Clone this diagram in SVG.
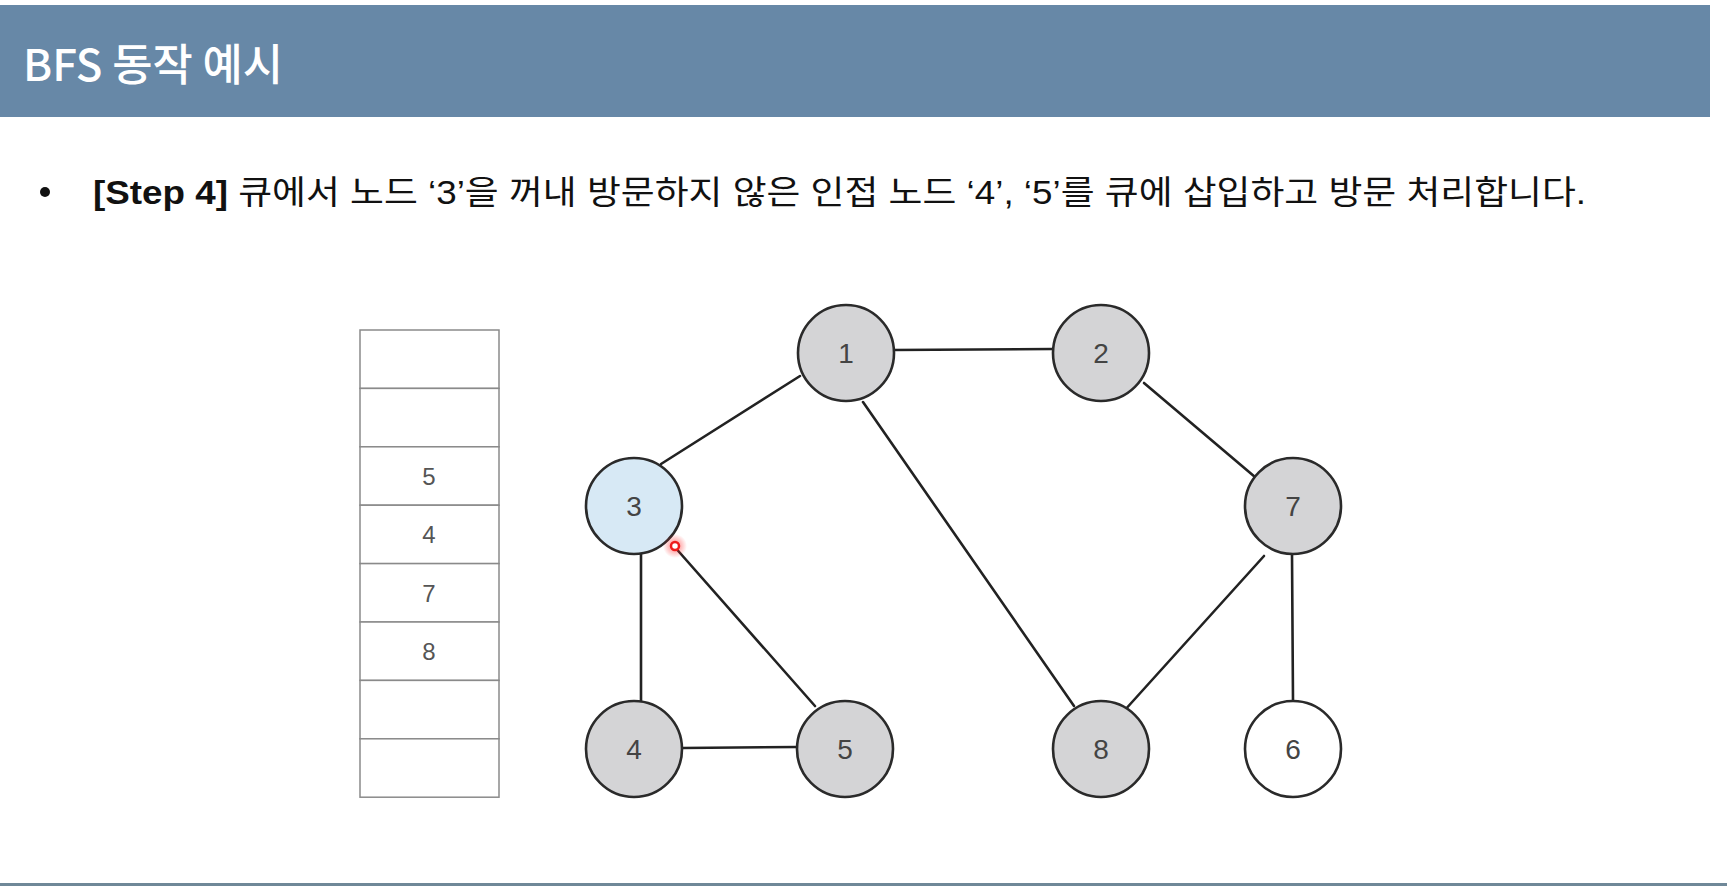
<svg xmlns="http://www.w3.org/2000/svg" width="1727" height="886" viewBox="0 0 1727 886">
<defs>
<style>
.node circle{stroke:#2a2a2a;stroke-width:2.6}
.visited{fill:#d4d4d6}
.current{fill:#d7e9f5}
.fresh{fill:#ffffff}
.lbl{font-family:"Liberation Sans",Arial,sans-serif;font-size:28px;fill:#444;text-anchor:middle}
.q rect{fill:#fff;stroke:#8a8a8a;stroke-width:1.5}
.qt{font-family:"Liberation Sans",Arial,sans-serif;font-size:24px;fill:#555;text-anchor:middle}
#edges line{stroke:#222;stroke-width:2.6;stroke-linecap:round}
</style>
<radialGradient id="glow">
<stop offset="0" stop-color="#ff2020" stop-opacity="0.6"/>
<stop offset="1" stop-color="#ff2020" stop-opacity="0"/>
</radialGradient>
</defs>
<rect width="1727" height="886" fill="#ffffff"/>
<g id="header">
<rect x="0" y="5" width="1710" height="112" fill="#6788a7"/>
<text x="23" y="81" font-family="'Noto Sans CJK KR','Noto Sans',sans-serif" font-size="44" font-weight="500" fill="#ffffff" textLength="260" lengthAdjust="spacingAndGlyphs">BFS 동작 예시</text>
</g>
<g id="bullet">
<circle cx="45" cy="192" r="5" fill="#111"/>
<text x="93" y="204" font-family="'Liberation Sans','Noto Sans CJK KR',sans-serif" font-size="33" fill="#111" textLength="1493" lengthAdjust="spacingAndGlyphs"><tspan font-weight="bold">[Step 4]</tspan> 큐에서 노드 ‘3’을 꺼내 방문하지 않은 인접 노드 ‘4’, ‘5’를 큐에 삽입하고 방문 처리합니다.</text>
</g>
<g id="queue" class="q">
<rect x="360" y="330" width="139" height="58.4"/>
<rect x="360" y="388.4" width="139" height="58.4"/>
<rect x="360" y="446.8" width="139" height="58.4"/>
<rect x="360" y="505.2" width="139" height="58.4"/>
<rect x="360" y="563.6" width="139" height="58.4"/>
<rect x="360" y="622" width="139" height="58.4"/>
<rect x="360" y="680.4" width="139" height="58.4"/>
<rect x="360" y="738.8" width="139" height="58.4"/>
<text class="qt" x="429" y="485">5</text>
<text class="qt" x="429" y="543">4</text>
<text class="qt" x="429" y="602">7</text>
<text class="qt" x="429" y="660">8</text>
</g>
<g id="edges">
<line x1="893" y1="350" x2="1053" y2="349"/>
<line x1="800" y1="376" x2="661" y2="464"/>
<line x1="863" y1="402" x2="1074" y2="706"/>
<line x1="1144" y1="383" x2="1255" y2="477"/>
<line x1="1264" y1="556" x2="1124" y2="711"/>
<line x1="1292" y1="554" x2="1293" y2="701"/>
<line x1="641" y1="554" x2="641" y2="701"/>
<line x1="673" y1="545" x2="815" y2="706"/>
<line x1="682" y1="748" x2="797" y2="747"/>
</g>
<g id="node1" class="node"><circle class="visited" cx="846" cy="353" r="48"/><text class="lbl" x="846" y="363">1</text></g>
<g id="node2" class="node"><circle class="visited" cx="1101" cy="353" r="48"/><text class="lbl" x="1101" y="363">2</text></g>
<g id="node3" class="node"><circle class="current" cx="634" cy="506" r="48"/><text class="lbl" x="634" y="516">3</text></g>
<g id="node7" class="node"><circle class="visited" cx="1293" cy="506" r="48"/><text class="lbl" x="1293" y="516">7</text></g>
<g id="node4" class="node"><circle class="visited" cx="634" cy="749" r="48"/><text class="lbl" x="634" y="759">4</text></g>
<g id="node5" class="node"><circle class="visited" cx="845" cy="749" r="48"/><text class="lbl" x="845" y="759">5</text></g>
<g id="node8" class="node"><circle class="visited" cx="1101" cy="749" r="48"/><text class="lbl" x="1101" y="759">8</text></g>
<g id="node6" class="node"><circle class="fresh" cx="1293" cy="749" r="48"/><text class="lbl" x="1293" y="759">6</text></g>
<g id="pointer">
<circle cx="675" cy="546" r="12" fill="url(#glow)"/>
<circle cx="675" cy="546" r="4" fill="#fff" stroke="#ee1c1c" stroke-width="2.5"/>
</g>
<rect id="footer-line" x="0" y="883" width="1727" height="3" fill="#6f8898"/>
</svg>
